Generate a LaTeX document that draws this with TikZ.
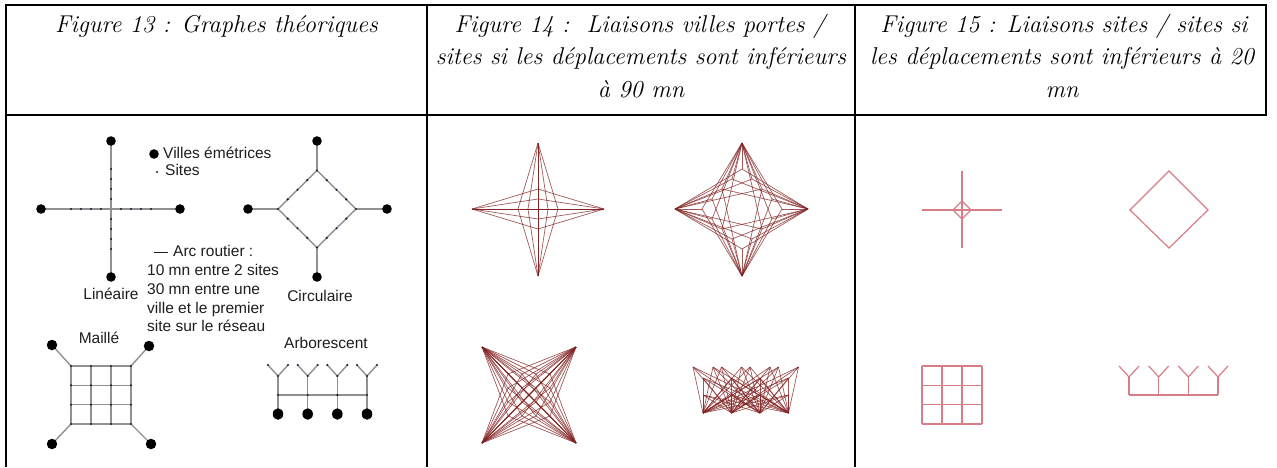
\documentclass[tikz,border=0pt]{standalone}
\usepackage{fontspec}
\newfontfamily\labelfont{Liberation Sans}
\usetikzlibrary{shapes.geometric}
\definecolor{roadgray}{RGB}{145,145,145}
\definecolor{sitecol}{RGB}{25,25,60}
\definecolor{textgray}{RGB}{30,30,30}
\definecolor{linkred}{RGB}{130,35,35}
\definecolor{pinkred}{RGB}{215,125,135}
\pgfdeclarelayer{bg}
\pgfsetlayers{bg,main}
\tikzset{
  tablerule/.style={line width=2pt, draw=black},
  head/.style={font=\fontsize{24.3}{32}\selectfont\itshape, inner sep=0pt, anchor=base},
  road/.style={draw=roadgray, line width=1.4pt},
  city/.style={circle, fill=black, inner sep=0pt, minimum size=9.6pt},
  bigcity/.style={ellipse, fill=black, inner sep=0pt, minimum width=10.5pt, minimum height=11.5pt},
  site/.style={circle, fill=sitecol, inner sep=0pt, minimum size=2.3pt},
  lbl/.style={font=\labelfont\fontsize{15.5}{18}\selectfont, text=textgray, inner sep=0pt, anchor=base west},
  lblc/.style={font=\labelfont\fontsize{15.5}{18}\selectfont, text=textgray, inner sep=0pt, anchor=base},
  link/.style={draw=linkred, line width=0.7pt, opacity=0.75},
  pinkline/.style={draw=pinkred, line width=1.2pt},
}
\begin{document}
\begin{tikzpicture}[x=1pt,y=-1pt]
\useasboundingbox (0,0) rectangle (1277,467);
\begin{pgfonlayer}{bg}
  \fill[white] (0,0) rectangle (1277,467);
\end{pgfonlayer}

% ---------- table ----------
\draw[tablerule] (5,5) -- (1267,5);
\draw[tablerule] (5,115) -- (1267,115);
\draw[tablerule] (6,4) -- (6,467);
\draw[tablerule] (427,4) -- (427,467);
\draw[tablerule] (855,4) -- (855,467);
\draw[tablerule] (1266,4) -- (1266,116);

% ---------- headers ----------
\node[head] (h13) at (216.5,32) {Figure 13 : Graphes théoriques};
\node[head] (h14a) at (640,32) {Figure 14 :\ \ Liaisons villes portes /};
\node[head] (h14b) at (641,64) {sites si les déplacements sont inférieurs};
\node[head] (h14c) at (641,97) {à 90 mn};
\node[head] (h15a) at (1064,32) {Figure 15 : Liaisons sites / sites si};
\node[head] (h15b) at (1062,64) {les déplacements sont inférieurs à 20};
\node[head] (h15c) at (1062,97) {mn};

% ---------- Figure 13 : linear ----------
\node[city] (LW) at (41,209) {};
\node[city] (LE) at (180,209) {};
\node[city] (LN) at (111,141) {};
\node[city] (LS) at (111,277) {};
\foreach \d in {1,...,4} {
  \node[site] (Le\d) at (111+10*\d,209) {};
  \node[site] (Lw\d) at (111-10*\d,209) {};
  \node[site] (Ln\d) at (111,209-10*\d) {};
  \node[site] (Ls\d) at (111,209+10*\d) {};
}
\begin{pgfonlayer}{bg}
  \draw[road] (LW.center) -- (LE.center);
  \draw[road] (LN.center) -- (LS.center);
\end{pgfonlayer}
\node[lblc] (tlin) at (111,299) {Linéaire};

% ---------- Figure 13 : circular ----------
\node[city] (CN) at (317,141) {};
\node[city] (CE) at (387,209) {};
\node[city] (CS) at (317,277) {};
\node[city] (CW) at (248,209) {};
\foreach [count=\k from 0] \dx/\dy in {0/-1,.25/-.75,.5/-.5,.75/-.25,1/0,.75/.25,.5/.5,.25/.75,0/1,-.25/.75,-.5/.5,-.75/.25,-1/0,-.75/-.25,-.5/-.5,-.25/-.75}
  \node[site] (Ck\k) at (317+39*\dx,209+38.5*\dy) {};
\begin{pgfonlayer}{bg}
  \draw[road] (Ck0.center) -- (Ck4.center) -- (Ck8.center) -- (Ck12.center) -- cycle;
  \draw[road] (CN.center) -- (Ck0.center);
  \draw[road] (CE.center) -- (Ck4.center);
  \draw[road] (CS.center) -- (Ck8.center);
  \draw[road] (CW.center) -- (Ck12.center);
\end{pgfonlayer}
\node[lblc] (tcir) at (320,301) {Circulaire};

% ---------- legend ----------
\node[city] (legc) at (154,154) {};
\node[lbl] (tvil) at (163,158) {Villes émétrices};
\node[site] (legs) at (157,172) {};
\node[lbl] (tsit) at (165,175) {Sites};
\coordinate (arcA) at (154,252);
\coordinate (arcB) at (168,252);
\draw[draw=textgray, line width=0.9pt] (arcA) -- (arcB);
\node[lbl] (tarc) at (173,256) {Arc routier :};
\node[lbl] (t1) at (147,275.5) {10 mn entre 2 sites};
\node[lbl] (t2) at (147,294) {30 mn entre une};
\node[lbl] (t3) at (147,313) {ville et le premier};
\node[lbl] (t4) at (147,331.5) {site sur le réseau};

% ---------- Figure 13 : mesh ----------
\foreach \i in {0,...,3} \foreach \j in {0,...,3}
  \node[site] (M\i\j) at (71+20*\i,366+19.33*\j) {};
\node[city, minimum size=10.5pt] (MNW) at (52,345) {};
\node[city, minimum size=10.5pt] (MNE) at (149,346) {};
\node[city, minimum size=10.5pt] (MSW) at (52,444) {};
\node[city, minimum size=10.5pt] (MSE) at (151,444) {};
\begin{pgfonlayer}{bg}
  \foreach \i in {0,...,3} {
    \draw[road] (M\i0.center) -- (M\i3.center);
    \draw[road] (M0\i.center) -- (M3\i.center);
  }
  \draw[road] (MNW.center) -- (M00.center);
  \draw[road] (MNE.center) -- (M30.center);
  \draw[road] (MSW.center) -- (M03.center);
  \draw[road] (MSE.center) -- (M33.center);
\end{pgfonlayer}
\node[lblc] (tmai) at (99,343) {Maillé};

% ---------- Figure 13 : tree ----------
\foreach \i in {0,...,3} {
  \pgfmathsetmacro\ax{278+29.67*\i}
  \node[site] (At\i) at (\ax,395) {};
  \node[site] (Ay\i) at (\ax,376) {};
  \node[site] (Al\i) at (\ax-10,365) {};
  \node[site] (Ar\i) at (\ax+10,365) {};
  \node[bigcity] (Ac\i) at (\ax,414) {};
}
\begin{pgfonlayer}{bg}
  \foreach \i in {0,...,3} {
    \draw[road] (Al\i.center) -- (Ay\i.center) -- (Ar\i.center);
    \draw[road] (Ay\i.center) -- (Ac\i.center);
  }
  \draw[road] (At0.center) -- (At3.center);
\end{pgfonlayer}
\node[lblc] (tarb) at (326,348) {Arborescent};

% ---------- Figure 14 : linear star ----------
\coordinate (Xcn) at (538,143);
\coordinate (Xcs) at (538,276);
\coordinate (Xcw) at (472,209);
\coordinate (Xce) at (604,209);
\foreach \d in {1,...,4} {
  \coordinate (Xe\d) at (538+10*\d,209);
  \coordinate (Xw\d) at (538-10*\d,209);
  \coordinate (Xn\d) at (538,209-10*\d);
  \coordinate (Xs\d) at (538,209+10*\d);
}
\foreach \b in {n,e,s,w} \draw[link] (Xc\b) -- (X\b1);
\foreach \b/\o in {n/e,n/s,n/w,e/n,e/s,e/w,s/n,s/e,s/w,w/n,w/e,w/s}
  \foreach \d in {1,2} \draw[link] (Xc\b) -- (X\o\d);

% ---------- Figure 14 : circular star ----------
\coordinate (Yc0) at (742,143);
\coordinate (Yc4) at (808,209);
\coordinate (Yc8) at (742,276);
\coordinate (Yc12) at (675,209);
\foreach [count=\k from 0] \dx/\dy in {0/-1,.25/-.75,.5/-.5,.75/-.25,1/0,.75/.25,.5/.5,.25/.75,0/1,-.25/.75,-.5/.5,-.75/.25,-1/0,-.75/-.25,-.5/-.5,-.25/-.75}
  \coordinate (Yk\k) at (742+40*\dx,209+40*\dy);
\foreach \v in {0,4,8,12}
  \foreach \k in {0,...,15} {
    \pgfmathtruncatemacro\dist{min(mod(\k-\v+16,16),mod(\v-\k+16,16))}
    \ifnum\dist<7 \draw[link] (Yc\v) -- (Yk\k); \fi
  }

% ---------- Figure 14 : mesh ----------
\coordinate (Zc0) at (482,347);
\coordinate (Zc1) at (576,347);
\coordinate (Zc2) at (482,443);
\coordinate (Zc3) at (576,443);
\foreach \i in {0,...,3} \foreach \j in {0,...,3}
  \coordinate (Z\i\j) at (508+14*\i,374+14*\j);
\foreach \c in {0,...,3}
  \foreach \i in {0,...,3} \foreach \j in {0,...,3}
    \draw[link] (Zc\c) -- (Z\i\j);

% ---------- Figure 14 : tree ----------
\foreach \i in {0,...,3} {
  \pgfmathsetmacro\bx{703+28.5*\i}
  \coordinate (Wc\i) at (\bx,413);
  \coordinate (Wt\i) at (\bx,395);
  \coordinate (Wy\i) at (\bx,378);
  \coordinate (Wl\i) at (\bx-10,367);
  \coordinate (Wr\i) at (\bx+10,367);
}
\foreach \c in {0,...,3}
  \foreach \i in {0,...,3} {
    \draw[link] (Wc\c) -- (Wt\i);
    \draw[link] (Wc\c) -- (Wy\i);
    \draw[link] (Wc\c) -- (Wl\i);
    \draw[link] (Wc\c) -- (Wr\i);
  }

% ---------- Figure 15 : linear ----------
\coordinate (Pw) at (922,210);
\coordinate (Pe) at (1002,210);
\coordinate (Pn) at (962,171);
\coordinate (Ps) at (962,248);
\coordinate (Pdn) at (962,201);
\coordinate (Pde) at (971,210);
\coordinate (Pds) at (962,219);
\coordinate (Pdw) at (953,210);
\draw[pinkline] (Pw) -- (Pe);
\draw[pinkline] (Pn) -- (Ps);
\draw[pinkline] (Pdn) -- (Pde) -- (Pds) -- (Pdw) -- cycle;

% ---------- Figure 15 : circular ----------
\coordinate (Qn) at (1169,171);
\coordinate (Qe) at (1208,210);
\coordinate (Qs) at (1169,248);
\coordinate (Qw) at (1130,210);
\draw[pinkline] (Qn) -- (Qe) -- (Qs) -- (Qw) -- cycle;

% ---------- Figure 15 : mesh ----------
\foreach \i in {0,...,3} \foreach \j in {0,...,3}
  \coordinate (R\i\j) at (922+20*\i,366+19.33*\j);
\foreach \i in {0,...,3} {
  \draw[pinkline] (R\i0) -- (R\i3);
  \draw[pinkline] (R0\i) -- (R3\i);
}

% ---------- Figure 15 : tree ----------
\foreach \i in {0,...,3} {
  \pgfmathsetmacro\cx{1129+29.67*\i}
  \coordinate (Tt\i) at (\cx,395);
  \coordinate (Ty\i) at (\cx,377);
  \coordinate (Tl\i) at (\cx-10,366);
  \coordinate (Tr\i) at (\cx+10,366);
}
\foreach \i in {0,...,3} {
  \draw[pinkline] (Tl\i) -- (Ty\i) -- (Tr\i);
  \draw[pinkline] (Ty\i) -- (Tt\i);
}
\draw[pinkline] (Tt0) -- (Tt3);

\end{tikzpicture}
\end{document}
